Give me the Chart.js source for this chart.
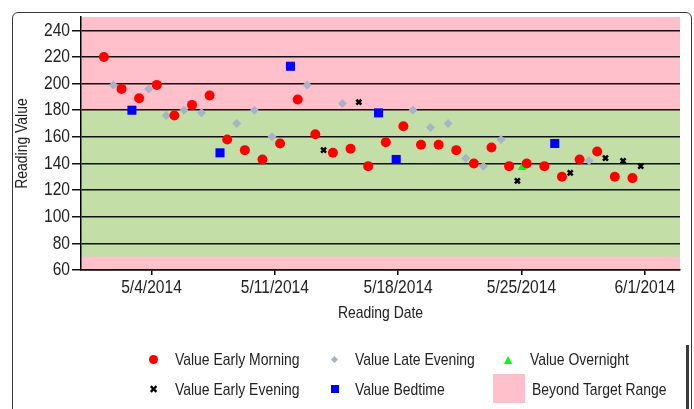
<!DOCTYPE html>
<html>
<head>
<meta charset="utf-8">
<script src="https://cdn.jsdelivr.net/npm/chart.js@4.4.0/dist/chart.umd.min.js"></script>
<style>
  html, body { margin: 0; padding: 0; background: #fff; }
  #wrap { position: relative; width: 694px; height: 409px; overflow: hidden;
          font-family: 'Liberation Sans', Arial, sans-serif; color: #222; }
  #chartBox { position: absolute; left: 0; top: 0; width: 694px; height: 409px; }
  #frame { position: absolute; left: 12px; top: 12px; width: 680px; height: 430px;
           border: 1px solid #3a3a3a; border-radius: 6px; box-sizing: border-box; pointer-events: none; }
  #scrollbar { position: absolute; left: 686px; top: 345px; width: 3px; height: 70px; background: #3a3a3a; }
  /* texto estrecho (como Arial Narrow) */
  .lg { position: absolute; font-size: 17px; line-height: 20px; white-space: nowrap;
        transform: scaleX(0.82); transform-origin: 0 0; }
  .mk { position: absolute; }
  .dot { width: 9px; height: 9px; border-radius: 50%; background: #ff0000; }
  .dia { width: 5px; height: 5px; background: #a7b3c6; transform: rotate(45deg); }
  .tri { width: 0; height: 0; border-left: 4px solid transparent; border-right: 4px solid transparent; border-bottom: 8px solid #00ff00; }
  .sq { width: 8px; height: 8px; background: #0000ff; }
  .crs { font-size: 11px; font-weight: bold; line-height: 12px; color: #000; font-family: 'DejaVu Sans', sans-serif; }
  .band { width: 32px; height: 29px; background: #ffc0cb; }
</style>
</head>
<body>
<div id="wrap">
  <div id="chartBox"><canvas id="bgChart"></canvas></div>
  <div id="frame"></div>
  <div id="scrollbar"></div>

  <div class="mk dot" style="left:149px; top:355px;"></div>
  <div class="lg" style="left:175px; top:350px;">Value Early Morning</div>
  <div class="mk dia" style="left:332px; top:357px;"></div>
  <div class="lg" style="left:355px; top:350px;">Value Late Evening</div>
  <div class="mk tri" style="left:504px; top:356px;"></div>
  <div class="lg" style="left:530px; top:350px;">Value Overnight</div>

  <div class="mk crs" style="left:149px; top:384px;">✖</div>
  <div class="lg" style="left:175px; top:380px;">Value Early Evening</div>
  <div class="mk sq" style="left:331px; top:385px;"></div>
  <div class="lg" style="left:355px; top:380px;">Value Bedtime</div>
  <div class="mk band" style="left:493px; top:374px;"></div>
  <div class="lg" style="left:532px; top:380px;">Beyond Target Range</div>
</div>

<script>
// --- datos ---
const YEAR = 2014;
const xMinDate = '4/30/2014';
const xMaxDate = '6/3/2014';
const xTickDates = ['5/4/2014', '5/11/2014', '5/18/2014', '5/25/2014', '6/1/2014'];
const yTicks = [60, 80, 100, 120, 140, 160, 180, 200, 220, 240];
const yMin = 60, yMax = 250;
const targetLow = 70, targetHigh = 180;

// hora aproximada de cada lectura (fraccion del dia)
const earlyMorningTime = 0.3;
const earlyEveningTime = 0.77;
const lateEveningTime = 0.84;
const bedtimeTime = 0.89;
const overnightTime = 0.03;

const earlyMorningDates = ['5/1', '5/2', '5/3', '5/4', '5/5', '5/6', '5/7', '5/8', '5/9', '5/10',
  '5/11', '5/12', '5/13', '5/14', '5/15', '5/16', '5/17', '5/18', '5/19', '5/20',
  '5/21', '5/22', '5/23', '5/24', '5/25', '5/26', '5/27', '5/28', '5/29', '5/30', '5/31'];
const earlyMorningValues = [220, 196, 189, 199, 176, 184, 191, 158, 150, 143,
  155, 188, 162, 148, 151, 138, 156, 168, 154, 154,
  150, 140, 152, 138, 140, 138, 130, 143, 149, 130, 129];

const lateEveningDates = ['5/1', '5/3', '5/4', '5/5', '5/6', '5/8', '5/9', '5/10', '5/12',
  '5/14', '5/18', '5/19', '5/20', '5/21', '5/22', '5/23', '5/28'];
const lateEveningValues = [199, 196, 176, 180, 178, 170, 180, 160, 199,
  185, 180, 167, 170, 144, 138, 158, 142];

const overnightDates = ['5/25'];
const overnightValues = [137];

const earlyEveningDates = ['5/13', '5/15', '5/24', '5/27', '5/29', '5/30', '5/31'];
const earlyEveningValues = [150, 186, 127, 133, 144, 142, 138];

const bedtimeDates = ['5/2', '5/7', '5/11', '5/16', '5/17', '5/26'];
const bedtimeValues = [180, 148, 213, 178, 143, 155];

// colores
const PINK = '#ffc0cb';
const GREEN = '#c3dea6';
const TEXT = '#222';
const FONT = "'Liberation Sans', Arial, sans-serif";
const NARROW = 0.82; // no hay Arial Narrow: se estrecha el texto a mano

function dayNum(s) {
    const p = s.split('/').map(Number);
    return Date.UTC(p[2] || YEAR, p[0] - 1, p[1]) / 864e5;
}

function toPoints(dates, values, time) {
    return dates.map((d, i) => ({ x: dayNum(d) + time, y: values[i] }));
}

// fondo rosa / verde (rango objetivo)
const bandPlugin = {
    id: 'bands',
    beforeDraw(chart) {
        const { ctx, chartArea: a, scales: { y } } = chart;
        ctx.save();
        ctx.fillStyle = PINK;
        ctx.fillRect(a.left, a.top, a.right - a.left, a.bottom - a.top);
        const yHi = y.getPixelForValue(targetHigh);
        const yLo = y.getPixelForValue(targetLow);
        ctx.fillStyle = GREEN;
        ctx.fillRect(a.left, yHi, a.right - a.left, yLo - yHi);
        ctx.restore();
    }
};

const canvas = document.getElementById('bgChart');
const ctx2d = canvas.getContext('2d');
const origFillText = ctx2d.fillText.bind(ctx2d);
ctx2d.fillText = function (text, x, y) {
    this.save();
    this.translate(x, y);
    this.scale(NARROW, 1);
    origFillText(text, 0, 0);
    this.restore();
};

new Chart(canvas, {
    type: 'scatter',
    data: {
        datasets: [
            {
                label: 'Value Early Morning',
                data: toPoints(earlyMorningDates, earlyMorningValues, earlyMorningTime),
                pointStyle: 'circle', pointRadius: 5, backgroundColor: '#ff0000', borderWidth: 0, order: 1
            },
            {
                label: 'Value Late Evening',
                data: toPoints(lateEveningDates, lateEveningValues, lateEveningTime),
                pointStyle: 'rectRot', pointRadius: 4.5, backgroundColor: '#a7b3c6', borderWidth: 0, order: 3
            },
            {
                label: 'Value Overnight',
                data: toPoints(overnightDates, overnightValues, overnightTime),
                pointStyle: 'triangle', pointRadius: 5, backgroundColor: '#00ff00', borderWidth: 0, order: 4
            },
            {
                label: 'Value Early Evening',
                data: toPoints(earlyEveningDates, earlyEveningValues, earlyEveningTime),
                pointStyle: 'crossRot', pointRadius: 3.5, borderColor: '#000', borderWidth: 2.5, order: 0
            },
            {
                label: 'Value Bedtime',
                data: toPoints(bedtimeDates, bedtimeValues, bedtimeTime),
                pointStyle: 'rect', pointRadius: 6.4, backgroundColor: '#0000ff', borderWidth: 0, order: 0
            }
        ]
    },
    options: {
        responsive: true,
        maintainAspectRatio: false,
        animation: false,
        layout: { padding: { left: 0, right: 14, top: 17, bottom: 85 } },
        plugins: { legend: { display: false }, tooltip: { enabled: false } },
        scales: {
            x: {
                type: 'linear',
                min: dayNum(xMinDate),
                max: dayNum(xMaxDate),
                afterBuildTicks: s => { s.ticks = xTickDates.map(d => ({ value: dayNum(d) })); },
                afterFit: s => { s.height = 54; },
                ticks: {
                    callback: (v, i) => xTickDates[i],
                    font: { family: FONT, size: 19 }, color: TEXT,
                    padding: 1, maxRotation: 0, autoSkip: false
                },
                grid: { drawOnChartArea: false, color: '#000', tickLength: 5, lineWidth: 1.5 },
                border: { color: '#000', width: 1.5 },
                title: {
                    display: true, text: 'Reading Date', color: TEXT,
                    font: { family: FONT, size: 17 }, padding: { top: 0, bottom: 0 }
                }
            },
            y: {
                min: yMin,
                max: yMax,
                afterBuildTicks: s => { s.ticks = yTicks.map(v => ({ value: v })); },
                afterFit: s => { s.width = 81; },
                ticks: { font: { family: FONT, size: 19 }, color: TEXT, padding: 2 },
                grid: { color: '#111', lineWidth: 1.5, tickLength: 9 },
                border: { color: '#000', width: 1.5 },
                title: {
                    display: true, text: 'Reading Value', color: TEXT,
                    font: { family: FONT, size: 17 }, padding: { top: 12, bottom: 0 }
                }
            }
        }
    },
    plugins: [bandPlugin]
});
</script>
</body>
</html>
